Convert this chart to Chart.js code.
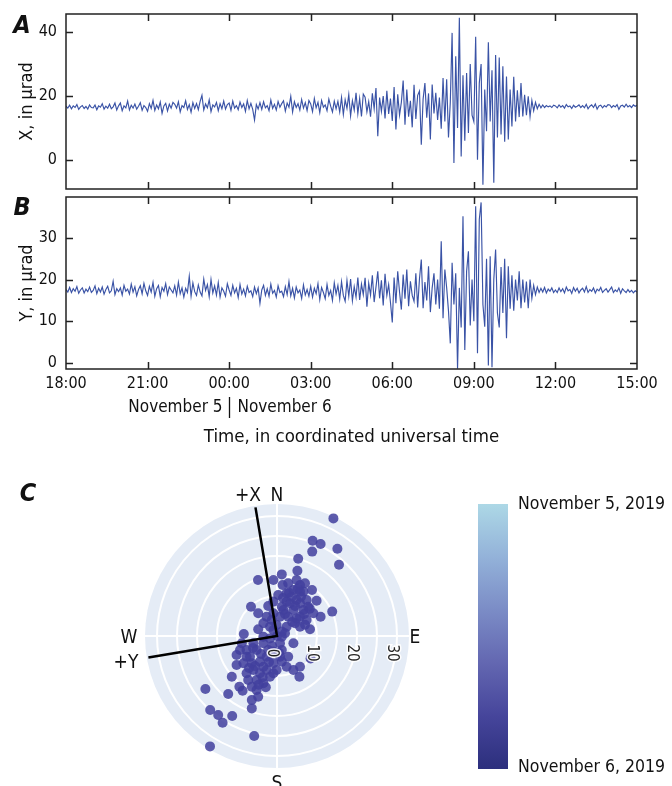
<!DOCTYPE html>
<html><head><meta charset="utf-8">
<script src="https://cdn.jsdelivr.net/npm/chart.js@4.4.1/dist/chart.umd.min.js"></script>
<style>
html,body{margin:0;padding:0;background:#fff;}
body{width:672px;height:786px;position:relative;overflow:hidden;}
canvas{position:absolute;left:0;}
#cA{top:0}#cB{top:193px}#cC{top:470px}
</style></head><body>
<canvas id="cA" width="672" height="193"></canvas>
<canvas id="cB" width="672" height="257"></canvas>
<canvas id="cC" width="672" height="316"></canvas>
<script>
// ---- time axis ----
const sampleMinutes = 4;            // one reading every 4 minutes, starting 18:00
const xTickMinutes = [0,180,360,540,720,900,1080,1260];
const xTickLabels  = ['18:00','21:00','00:00','03:00','06:00','09:00','12:00','15:00'];
const midnightMinute = 360;
const dayLabels = ['November 5','November 6'];
const xAxisTitle = 'Time, in coordinated universal time';

// ---- panel A: X tilt, microradians ----
const tiltX = [
16.8,16.2,17.1,16.0,16.9,16.4,17.3,15.8,16.6,17.0,16.1,16.7,15.9,17.2,16.4,
16.3,17.2,15.7,16.9,16.5,17.6,15.9,16.8,16.2,17.4,16.0,16.6,17.8,15.6,16.9,
17.8,15.4,16.9,16.3,18.4,15.6,17.1,16.2,17.5,15.9,16.8,17.9,15.5,17.0,16.4,
15.2,17.6,16.1,18.6,15.5,17.2,16.0,18.1,14.6,16.9,17.7,15.3,17.4,16.2,18.0,
17.4,16.2,18.2,15.0,17.0,16.4,18.5,15.8,17.3,14.9,17.9,16.1,17.6,15.7,18.3,
20.2,15.6,17.5,16.3,18.8,15.1,17.2,16.6,18.0,15.4,17.6,16.0,18.4,15.9,17.3,
17.8,15.5,18.4,16.2,17.0,15.7,18.1,16.4,17.5,15.2,18.6,16.0,17.7,15.8,12.5,
17.3,15.9,17.9,15.8,18.2,16.3,17.0,15.4,18.7,16.1,17.4,15.6,18.3,16.5,17.6,
18.5,15.3,17.8,16.5,19.9,15.0,18.2,16.4,17.6,15.6,18.9,16.2,17.9,15.4,18.6,
17.5,15.1,19.2,16.3,18.0,14.8,18.6,16.5,17.2,15.4,19.0,16.8,15.0,18.4,16.0,
18.3,15.0,19.5,14.2,18.8,16.1,20.4,13.8,18.5,15.6,21.0,14.5,19.2,13.6,20.6,
19.6,15.0,18.2,13.5,20.8,16.0,22.5,7.4,19.5,15.2,20.0,13.0,21.6,14.4,19.2,
12.2,22.8,9.5,20.5,14.0,18.0,24.8,11.0,22.0,13.5,18.5,10.2,23.5,12.8,20.2,
21.5,4.8,19.0,24.0,13.2,20.8,6.4,23.6,14.5,21.0,12.5,19.5,9.8,25.6,12.0,
25.2,7.0,18.0,39.7,-0.9,32.4,10.0,44.4,1.1,26.5,6.0,27.2,8.4,30.0,14.0,
12.0,38.5,0.1,24.0,30.0,-7.7,22.0,9.0,36.8,12.0,28.0,-7.1,32.8,7.0,32.0,
8.0,29.3,5.7,26.1,6.4,22.0,10.5,26.0,12.0,21.8,13.4,24.0,13.6,20.4,14.0,
19.9,13.6,18.6,15.4,18.0,16.0,17.4,16.3,17.2,16.4,17.0,16.6,16.9,16.4,17.1,
16.9,16.3,17.2,16.5,17.0,16.2,17.3,16.6,16.9,16.1,17.1,16.5,16.8,17.2,16.4,
17.0,16.3,17.4,16.0,16.8,17.2,16.4,17.5,15.9,16.9,17.1,16.3,17.0,16.6,17.3,
17.2,16.4,17.0,16.6,17.3,15.8,16.9,17.1,16.5,17.4,16.6,17.0,16.4,17.2,16.8,
17.1];
const yTicksA = [0,20,40];
const yRangeA = [-9.06,45.6];

// ---- panel B: Y tilt, microradians ----
const tiltY = [
17.6,17.0,18.1,16.9,17.8,17.2,18.3,16.7,17.5,18.0,16.8,17.7,17.1,18.2,16.9,
17.4,18.5,16.6,17.9,17.0,18.2,16.5,17.6,18.4,16.8,17.3,19.6,16.4,17.8,17.1,
18.0,16.3,18.6,17.2,17.7,16.5,18.9,17.0,18.3,16.1,17.6,18.5,16.6,19.1,17.3,
16.2,18.4,17.0,19.3,16.0,17.8,18.6,15.9,18.1,17.2,19.0,16.4,18.2,17.5,16.8,
18.5,16.3,19.4,16.6,18.0,15.8,17.9,16.9,20.8,16.0,19.2,17.1,16.2,18.7,17.0,
16.1,20.1,17.4,18.8,15.9,20.0,16.8,18.5,16.3,19.3,15.8,18.0,17.2,16.0,19.0,
17.5,16.2,18.6,16.8,17.9,15.7,18.8,16.5,17.7,16.1,18.4,16.9,17.3,15.9,18.2,
16.6,18.0,14.3,17.5,18.6,16.2,17.8,16.0,18.9,16.7,17.4,15.8,18.5,16.9,17.2,
15.9,18.3,16.4,19.5,16.1,17.9,15.6,18.2,16.8,17.5,15.5,18.7,16.3,17.6,16.0,
18.4,15.8,17.9,16.6,19.0,15.2,18.1,16.9,15.4,18.8,16.2,17.4,15.0,19.2,16.5,
18.6,15.3,19.5,16.2,14.8,19.8,16.0,20.1,14.9,18.3,15.8,20.5,15.1,18.9,16.4,
20.4,13.5,19.1,16.3,21.0,14.6,18.2,22.0,15.5,19.8,13.8,21.4,16.2,18.8,14.5,
9.7,20.5,14.3,22.0,17.0,12.8,21.2,15.4,22.4,13.6,19.6,16.2,14.8,21.5,13.3,
20.2,24.8,13.1,19.4,15.0,23.2,12.2,18.0,21.5,14.0,20.0,13.0,29.2,10.7,22.4,
18.0,12.5,4.7,24.0,14.0,21.5,-1.4,18.0,8.5,35.2,3.1,22.0,26.8,9.0,20.0,
10.0,37.6,2.3,34.4,38.5,14.0,8.7,25.0,-0.6,25.6,-1.0,20.0,27.2,12.0,8.5,
23.0,12.0,25.0,5.9,23.2,13.0,21.0,12.5,20.0,15.0,22.0,13.1,20.0,14.5,19.5,
13.1,20.0,15.5,18.6,16.4,18.2,16.9,17.9,17.0,18.1,16.8,17.7,17.2,18.0,16.9,
17.5,16.9,18.0,17.1,17.8,16.8,18.2,17.3,17.6,16.7,18.1,17.2,17.9,16.8,17.5,
17.9,17.0,18.3,16.9,17.6,17.2,18.0,16.8,17.7,17.3,18.1,16.9,17.4,17.8,17.0,
17.6,18.2,16.9,17.5,17.1,18.0,16.7,17.8,17.3,16.9,17.6,17.0,17.4,16.8,17.3,
17.0];
const yTicksB = [0,10,20,30];
const yRangeB = [-1.45,39.8];

// ---- panel C: tilt vectors, east and north components (microradians) ----
const polarEast = [
14.1,8.9,10.9,15.1,8.8,15.5,5.3,5.1,1.2,-0.9,-4.75,1.4,4.9,5.75,6.6,4.1,2.4,8.75,9.9,13.8,
10.9,8.25,5.75,4.9,6.6,3.25,1.6,0.75,-0.9,-2.2,-6.5,-4.7,-3.4,-4.7,-8.3,2.0,4.1,3.7,4.9,7.4,
7.8,2.4,1.2,5.75,4.1,2.8,5.75,7.4,-0.1,-1.3,-2.6,-0.9,0.3,5.75,7.0,2.8,4.5,9.1,2.4,1.2,
-9.25,-7.6,-6.3,-4.25,-2.6,-0.9,0.75,2.4,-0.1,-1.75,-3.4,-5.1,-6.3,-6.3,5.75,5.6,8.4,-11.3,-12.2,-9.4,
-8.6,-17.9,-16.7,-14.7,-13.6,-11.2,-5.7,-16.75,-7.6,-7.2,-10.1,-8.4,-5.1,-3.4,-2.2,-5.9,-4.25,-2.6,-0.9,1.2,
2.8,-5.1,-6.3,-3.4,-7.6,-8.8,-5.9,0.75,-1.75,-3.4,1.2,4.1,-4.7,-0.9,-10.1,-6.75,0,-0.9,1.2,-1.75,
3.0,6.0,4.5,6.8,2.0,3.8,7.0,1.5,5.2,8.2,-4.0,-6.0,-2.0,-3.6,-5.5,-1.2,0.5,-7.0,-2.8,-4.6];
const polarNorth = [
29.4,23.8,23.0,21.8,21.1,17.8,19.3,16.3,15.4,14.0,14.0,12.75,14.0,12.75,11.1,11.5,10.7,11.5,8.8,6.1,
4.8,1.7,2.3,4.4,6.5,8.2,6.5,4.8,5.7,7.5,7.3,5.7,3.2,1.7,0.5,0.7,-1.8,9.8,9.0,9.0,
7.3,8.6,7.3,8.2,6.5,4.8,4.8,4.0,2.75,4.0,4.8,8.6,10.25,11.1,13.2,13.2,3.2,5.7,2.3,1.1,
-3.5,-5.2,-6.8,-6.4,-5.2,-3.9,-5.2,-7.7,-8.5,-10.2,-11.8,-13.5,-16.0,-18.1,-7.7,-10.2,-5.6,-10.2,-14.5,-12.7,
-13.7,-13.25,-18.5,-19.75,-21.7,-20.0,-25.0,-27.6,-9.3,-11.0,-4.75,-6.8,-3.5,-1.8,-3.5,-8.5,-9.3,-8.5,-6.8,-3.5,
-5.2,-11.0,-12.7,-7.7,-3.5,-1.8,-1.8,-1.8,-0.6,-0.2,-6.4,-8.5,-15.2,-9.3,-7.25,-5.2,0,1.5,-0.2,2.3,
10.8,9.8,7.5,5.5,5.5,3.5,2.8,9.5,11.8,6.8,-4.5,-3.0,-6.5,-10.3,-7.5,-2.5,-4.2,-8.0,-12.8,-12.2];
const radialTicks = [0,10,20,30];
const radialGrid = [5,10,15,20,25,30];
const radialMax = 33;
const sensorAzimuth = -9.5;     // +X axis, degrees clockwise from north
const sensorAxisLength = 32.6;
const compassLabels = ['N','E','S','W'];
const axisLabels = ['+X','+Y'];
const colorbarLabels = ['November 5, 2019','November 6, 2019'];
const colorbarStops = ['#ADD8E6','#93B2D9','#7B8CC6','#6367B1','#46459B','#2C2F7D'];

// ---- drawing ----
const F = "'DejaVu Sans Condensed','DejaVu Sans',sans-serif";
Chart.defaults.font.family = F;
Chart.defaults.color = '#111';
const INK = '#111';

function framePlugin(letter, letterY, withDays){
  return {id:'frame', afterDraw(chart){
    const {ctx, chartArea:a, scales:{x,y}} = chart;
    ctx.save();
    ctx.strokeStyle = '#222'; ctx.lineWidth = 1.5;
    ctx.strokeRect(a.left, a.top, a.right-a.left, a.bottom-a.top);
    ctx.beginPath();
    xTickMinutes.forEach(m => {
      if (m <= xTickMinutes[0] || m >= xTickMinutes[xTickMinutes.length-1]) return;
      const px = Math.round(x.getPixelForValue(m)) + 0.5;
      ctx.moveTo(px, a.top); ctx.lineTo(px, a.top+7);
      ctx.moveTo(px, a.bottom); ctx.lineTo(px, a.bottom-7);
    });
    y.ticks.forEach(t => {
      const py = Math.round(y.getPixelForValue(t.value)) + 0.5;
      ctx.moveTo(a.left, py); ctx.lineTo(a.left+7, py);
      ctx.moveTo(a.right, py); ctx.lineTo(a.right-7, py);
    });
    ctx.stroke();
    ctx.fillStyle = INK;
    ctx.font = `italic bold 25px ${F}`;
    ctx.textAlign = 'center'; ctx.textBaseline = 'middle';
    ctx.fillText(letter, 22, letterY);
    if (withDays) {
      const mx = Math.round(x.getPixelForValue(midnightMinute)) + 0.5;
      ctx.lineWidth = 1.3; ctx.strokeStyle = INK;
      ctx.beginPath(); ctx.moveTo(mx, a.bottom+28); ctx.lineTo(mx, a.bottom+49); ctx.stroke();
      ctx.font = `17px ${F}`;
      ctx.textAlign = 'right'; ctx.fillText(dayLabels[0], mx-7, a.bottom+39);
      ctx.textAlign = 'left'; ctx.fillText(dayLabels[1], mx+8, a.bottom+39);
    }
    ctx.restore();
  }};
}

function panel(id, values, range, yTicks, yTitle, letter, letterY, withX, pad){
  const pts = values.map((v,i) => ({x: i*sampleMinutes, y: v}));
  return new Chart(document.getElementById(id), {
    type: 'line',
    data: {datasets: [{data: pts, borderColor: '#3a53a6', borderWidth: 1.15, pointRadius: 0, tension: 0}]},
    options: {
      responsive: false, animation: false, events: [],
      layout: {padding: pad},
      plugins: {legend: {display: false}, tooltip: {enabled: false}},
      scales: {
        x: {type: 'linear', min: xTickMinutes[0], max: xTickMinutes[xTickMinutes.length-1], display: withX,
            afterBuildTicks: s => { s.ticks = xTickMinutes.map(v => ({value: v})); },
            afterFit: s => { s.height = withX ? 81 : 0; s.paddingLeft = 0; s.paddingRight = 0; },
            grid: {display: false, drawTicks: false}, border: {display: false},
            ticks: {autoSkip: false, maxRotation: 0, padding: 5, font: {size: 16}, color: INK,
                    callback: v => xTickLabels[xTickMinutes.indexOf(v)]},
            title: {display: true, text: xAxisTitle, font: {size: 18.5}, color: INK, padding: {top: 0, bottom: 2}}},
        y: {type: 'linear', min: range[0], max: range[1],
            afterBuildTicks: s => { s.ticks = yTicks.map(v => ({value: v})); },
            afterFit: s => { s.width = 66; s.paddingTop = 0; s.paddingBottom = 0; },
            grid: {display: false, drawTicks: false}, border: {display: false},
            ticks: {padding: 9, font: {size: 16}, color: INK},
            title: {display: true, text: yTitle, font: {size: 18}, color: INK, padding: {top: 17, bottom: 0}}}
      }
    },
    plugins: [framePlugin(letter, letterY, withX)]
  });
}

panel('cA', tiltX, yRangeA, yTicksA, 'X, in µrad', 'A', 26, false, {top: 14, right: 35, bottom: 4, left: 0});
panel('cB', tiltY, yRangeB, yTicksB, 'Y, in µrad', 'B', 15, true, {top: 4, right: 35, bottom: 0, left: 0});

const polarPlugin = {
  id: 'polar',
  beforeDatasetsDraw(chart){
    const {ctx, scales:{x,y}} = chart;
    const cx = x.getPixelForValue(0), cy = y.getPixelForValue(0);
    const R = x.getPixelForValue(radialMax) - cx;
    ctx.save();
    ctx.fillStyle = '#E5ECF6';
    ctx.beginPath(); ctx.arc(cx, cy, R, 0, Math.PI*2); ctx.fill();
    ctx.strokeStyle = '#fff'; ctx.lineWidth = 2;
    radialGrid.forEach(v => {
      const r = x.getPixelForValue(v) - cx;
      ctx.beginPath(); ctx.arc(cx, cy, r, 0, Math.PI*2); ctx.stroke();
    });
    ctx.beginPath();
    ctx.moveTo(cx-R, cy); ctx.lineTo(cx+R, cy);
    ctx.moveTo(cx, cy-R); ctx.lineTo(cx, cy+R);
    ctx.stroke();
    ctx.restore();
  },
  afterDatasetsDraw(chart){
    const {ctx, scales:{x,y}} = chart;
    const cx = x.getPixelForValue(0), cy = y.getPixelForValue(0);
    ctx.save();
    // sensor axes
    const az = sensorAzimuth*Math.PI/180, az2 = az - Math.PI/2, L = sensorAxisLength;
    ctx.strokeStyle = '#000'; ctx.lineWidth = 2.5; ctx.lineJoin = 'miter';
    ctx.beginPath();
    ctx.moveTo(x.getPixelForValue(L*Math.sin(az)), y.getPixelForValue(L*Math.cos(az)));
    ctx.lineTo(cx, cy);
    ctx.lineTo(x.getPixelForValue(L*Math.sin(az2)), y.getPixelForValue(L*Math.cos(az2)));
    ctx.stroke();
    // radial tick labels
    ctx.font = `15px ${F}`; ctx.textAlign = 'center'; ctx.textBaseline = 'middle';
    radialTicks.forEach(v => {
      ctx.save();
      ctx.translate(x.getPixelForValue(v) - 5, cy + 17);
      ctx.rotate(Math.PI/2);
      ctx.lineWidth = 3; ctx.strokeStyle = 'rgba(255,255,255,0.9)';
      ctx.strokeText(String(v), 0, 0);
      ctx.fillStyle = '#222'; ctx.fillText(String(v), 0, 0);
      ctx.restore();
    });
    // compass + sensor labels
    ctx.fillStyle = INK; ctx.font = `19px ${F}`;
    ctx.fillText(compassLabels[0], cx, cy-140);
    ctx.fillText(compassLabels[1], cx+138, cy+2);
    ctx.fillText(compassLabels[2], cx, cy+148);
    ctx.fillText(compassLabels[3], cx-148, cy+2);
    ctx.fillText(axisLabels[0], cx-29, cy-140);
    ctx.fillText(axisLabels[1], cx-151, cy+27);
    // colour bar
    const bx = 478, by = 34, bw = 30, bh = 265;
    const g = ctx.createLinearGradient(0, by, 0, by+bh);
    colorbarStops.forEach((c,i) => g.addColorStop(i/(colorbarStops.length-1), c));
    ctx.fillStyle = g; ctx.fillRect(bx, by, bw, bh);
    ctx.fillStyle = INK; ctx.font = `17.5px ${F}`; ctx.textAlign = 'left';
    ctx.fillText(colorbarLabels[0], 518, by);
    ctx.fillText(colorbarLabels[1], 518, by+bh-2);
    // panel letter
    ctx.font = `italic bold 25px ${F}`; ctx.textAlign = 'center';
    ctx.fillText('C', 28, 24);
    ctx.restore();
  }
};

new Chart(document.getElementById('cC'), {
  type: 'scatter',
  data: {datasets: [{data: polarEast.map((e,i) => ({x: e, y: polarNorth[i]})),
                     pointRadius: 5, backgroundColor: 'rgba(66,64,158,0.85)', borderWidth: 0, clip: false}]},
  options: {
    responsive: false, animation: false, events: [],
    layout: {padding: {left: 145, right: 263, top: 34, bottom: 18}},
    plugins: {legend: {display: false}, tooltip: {enabled: false}},
    scales: {x: {type: 'linear', min: -radialMax, max: radialMax, display: false},
             y: {type: 'linear', min: -radialMax, max: radialMax, display: false}}
  },
  plugins: [polarPlugin]
});
</script>
</body></html>
